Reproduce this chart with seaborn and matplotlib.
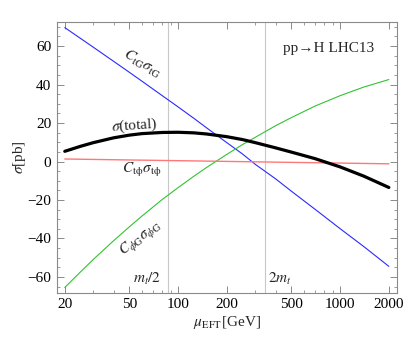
import numpy as np
import pandas as pd
import matplotlib
matplotlib.use("Agg")
import matplotlib.pyplot as plt
import matplotlib.ticker as mticker
import seaborn as sns

# scale values (GeV)
mu = [20, 25, 30, 40, 50, 60, 80, 100, 125, 150, 200, 250, 300, 400, 500, 700, 1000, 1400, 2000]

# cross section contributions [pb]
sigma_tG = [69.6, 64.0, 59.4, 52.1, 46.4, 41.7, 34.2, 28.4, 22.5, 17.5, 9.8, 3.9, -1.5,
            -9.0, -15.4, -24.8, -34.9, -44.2, -54.5]
sigma_phiG = [-65.5, -57.4, -50.9, -41.2, -34.0, -28.3, -19.7, -13.6, -7.7, -3.1, 3.7, 8.8, 12.6,
              18.6, 22.8, 28.8, 34.2, 38.7, 42.6]
sigma_tphi = [1.3, 1.18, 1.08, 0.92, 0.80, 0.70, 0.55, 0.43, 0.31, 0.21, 0.05, -0.07, -0.17,
              -0.33, -0.45, -0.63, -0.82, -1.01, -1.2]
sigma_total = [5.3, 7.9, 9.8, 12.3, 13.7, 14.5, 15.1, 15.2, 14.9, 14.3, 12.9, 11.4, 9.8,
               7.1, 4.9, 1.5, -2.8, -7.6, -13.5]

mt = 172.5
xticks = [20, 50, 100, 200, 500, 1000, 2000]

df = pd.DataFrame({"mu": mu, "tG": sigma_tG, "phiG": sigma_phiG,
                   "tphi": sigma_tphi, "total": sigma_total})

sns.set_theme(style="ticks")
plt.rcParams["font.family"] = ["Liberation Serif", "DejaVu Serif"]
plt.rcParams["mathtext.fontset"] = "stix"
plt.rcParams["axes.unicode_minus"] = True

fig = plt.figure(figsize=(4.07, 3.39), dpi=100)
ax = fig.add_axes([0.140, 0.136, 0.835, 0.799])

# reference lines at mt/2 and 2mt
for v in (mt / 2, 2 * mt):
    ax.axvline(v, color="#c8c8c8", lw=0.8, zorder=0)

sns.lineplot(data=df, x="mu", y="tG", color="#2a2aff", lw=0.8, ax=ax)
sns.lineplot(data=df, x="mu", y="phiG", color="#33c233", lw=0.8, ax=ax)
sns.lineplot(data=df, x="mu", y="tphi", color="#ff7878", lw=1.0, ax=ax)
sns.lineplot(data=df, x="mu", y="total", color="black", lw=2.3, ax=ax)

ax.set_xscale("log")
ax.set_xlim(17.9, 2240)
ax.set_ylim(-68.3, 72.5)
ax.xaxis.set_major_locator(mticker.FixedLocator(xticks))
ax.xaxis.set_major_formatter(mticker.FixedFormatter([str(t) for t in xticks]))
ax.xaxis.set_minor_locator(mticker.LogLocator(base=10, subs=np.arange(2, 10)))
ax.xaxis.set_minor_formatter(mticker.NullFormatter())
ax.yaxis.set_major_locator(mticker.MultipleLocator(20))
ax.yaxis.set_minor_locator(mticker.MultipleLocator(5))

for s in ax.spines.values():
    s.set_color("#8a8a8a")
    s.set_linewidth(0.8)
ax.tick_params(which="both", direction="in", top=True, right=True,
               color="#8a8a8a", labelsize=11, labelcolor="black", pad=4)
ax.tick_params(which="major", length=5, width=0.7)
ax.tick_params(which="minor", length=2.5, width=0.6)

ax.set_xlabel(r"$\mu_{\rm EFT}$[GeV]", fontsize=11, labelpad=2)
ax.set_ylabel(r"$\sigma$[pb]", fontsize=11, labelpad=0)

tkw = dict(fontsize=11, ha="center", va="center")
ax.text(0.80, 0.902, "pp\u2192H LHC13", transform=ax.transAxes, **tkw)
ax.text(60, 51, r"$C_{\rm tG}\sigma_{\rm tG}$", rotation=-31, **tkw)
ax.text(54, 18.5, r"$\sigma$(total)", rotation=4, **tkw)
ax.text(60, -4.5, r"$C_{\rm t\phi}\sigma_{\rm t\phi}$", **tkw)
ax.text(59, -40.5, r"$C_{\phi\rm G}\sigma_{\phi\rm G}$", rotation=37, **tkw)
ax.text(64.4, -61.3, r"$m_t/2$", **tkw)
ax.text(426, -61.3, r"$2m_t$", **tkw)

fig.savefig("out.png", dpi=100)
